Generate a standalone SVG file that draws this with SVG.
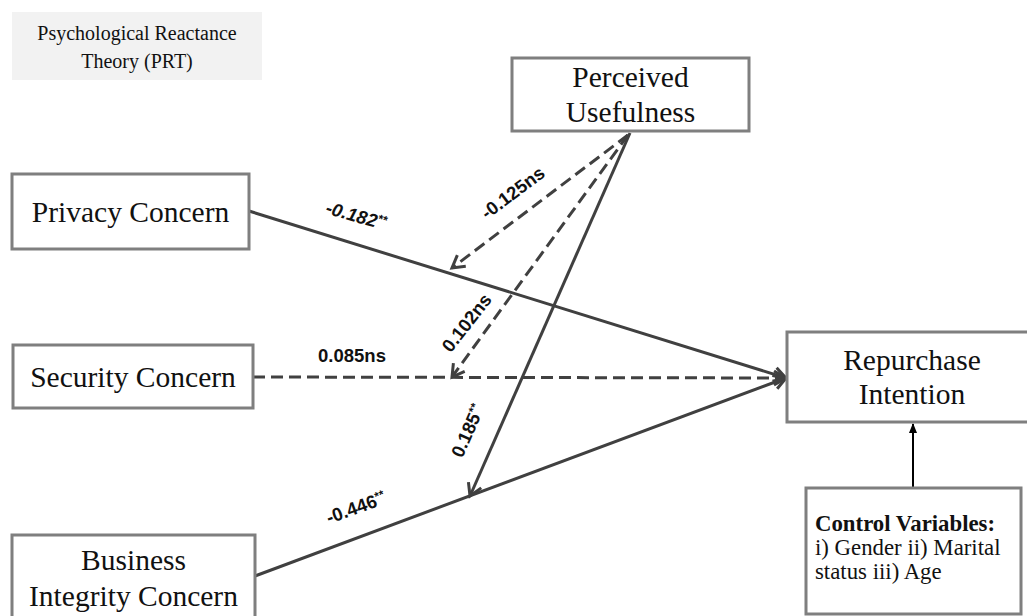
<svg xmlns="http://www.w3.org/2000/svg" width="1027" height="616" viewBox="0 0 1027 616">
<style>
.box{fill:#fff;stroke:#7f7f7f;stroke-width:3}
.nt{font-family:"Liberation Serif","Times New Roman",serif;font-size:29.5px;fill:#111;text-anchor:middle}
.ct{font-family:"Liberation Serif","Times New Roman",serif;font-size:22.8px;fill:#111}
.lbl{font-family:"Liberation Sans",Arial,sans-serif;font-size:18.5px;font-weight:bold;fill:#111;text-anchor:middle}
.sup{font-size:12px}
.c{fill:none;stroke:#404040;stroke-width:3}
.d{stroke-dasharray:12 6}
</style>
<defs>
<marker id="ah" markerUnits="userSpaceOnUse" viewBox="0 0 18 18" markerWidth="18" markerHeight="18" refX="15" refY="9" orient="auto">
<path d="M3,2 L15,9 L3,16" fill="none" stroke="#404040" stroke-width="3"/>
</marker>
<marker id="bh" markerUnits="userSpaceOnUse" viewBox="0 0 10 10" markerWidth="10" markerHeight="10" refX="9" refY="5" orient="auto">
<path d="M0,1 L10,5 L0,9 Z" fill="#000"/>
</marker>
</defs>
<rect width="1027" height="616" fill="#fff"/>

<g id="prt">
<rect x="12" y="12" width="250" height="68" fill="#f2f2f2"/>
<text x="137" y="40" style="font-family:'Liberation Serif','Times New Roman',serif;font-size:20px;fill:#111;text-anchor:middle">Psychological Reactance</text>
<text x="137" y="68" style="font-family:'Liberation Serif','Times New Roman',serif;font-size:20px;fill:#111;text-anchor:middle">Theory (PRT)</text>
</g>

<g id="connectors">
<line class="c" x1="249" y1="211" x2="786" y2="378" marker-end="url(#ah)"/>
<line class="c d" x1="253" y1="377" x2="786" y2="378" marker-end="url(#ah)"/>
<line class="c" x1="255" y1="576" x2="786" y2="378" marker-end="url(#ah)"/>
<line class="c d" x1="628" y1="135" x2="452" y2="268" marker-end="url(#ah)"/>
<line class="c d" x1="628" y1="135" x2="452" y2="377" marker-end="url(#ah)"/>
<line class="c" x1="630" y1="133" x2="470" y2="496" marker-end="url(#ah)"/>
<line x1="913" y1="488" x2="913" y2="424" stroke="#000" stroke-width="2" marker-end="url(#bh)"/>
<text class="lbl" transform="translate(356,216) rotate(16)" dy="6" style="font-style:italic">-0.182<tspan class="sup" dy="-6">**</tspan></text>
<text class="lbl" x="352" y="362">0.085ns</text>
<text class="lbl" transform="translate(513,193) rotate(-37)" dy="6">-0.125ns</text>
<text class="lbl" transform="translate(467,323) rotate(-52)" dy="6">0.102ns</text>
<text class="lbl" transform="translate(468,431) rotate(-66)" dy="6">0.185<tspan class="sup" dy="-6">**</tspan></text>
<text class="lbl" transform="translate(356,508) rotate(-20)" dy="6">-0.446<tspan class="sup" dy="-6">**</tspan></text>
</g>

<g id="privacy">
<rect class="box" x="12" y="174" width="237" height="75"/>
<text class="nt" x="130.5" y="222">Privacy Concern</text>
</g>

<g id="security">
<rect class="box" x="13" y="345" width="240" height="63"/>
<text class="nt" x="133" y="387">Security Concern</text>
</g>

<g id="business">
<rect class="box" x="12" y="535" width="243" height="95"/>
<text class="nt" x="133.5" y="570">Business</text>
<text class="nt" x="133.5" y="606">Integrity Concern</text>
</g>

<g id="usefulness">
<rect class="box" x="512" y="58" width="237" height="73"/>
<text class="nt" x="630.5" y="87">Perceived</text>
<text class="nt" x="630.5" y="122">Usefulness</text>
</g>

<g id="repurchase">
<rect class="box" x="787" y="332" width="250" height="90"/>
<text class="nt" x="912" y="370">Repurchase</text>
<text class="nt" x="912" y="404">Intention</text>
</g>

<g id="control">
<rect class="box" x="806" y="488" width="215" height="126"/>
<text class="ct" x="815" y="531" font-weight="bold">Control Variables:</text>
<text class="ct" x="815" y="555">i) Gender ii) Marital</text>
<text class="ct" x="815" y="579">status iii) Age</text>
</g>
</svg>
